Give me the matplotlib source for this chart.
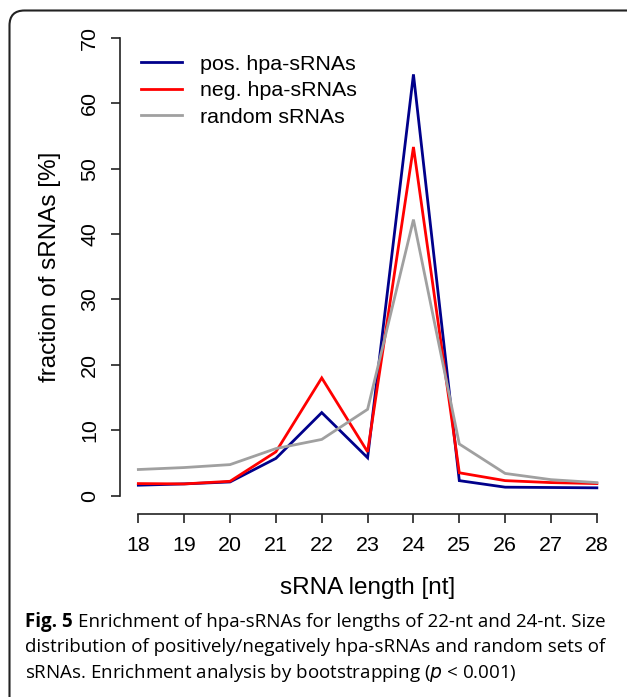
import matplotlib
matplotlib.use("Agg")
import matplotlib.pyplot as plt
from matplotlib.path import Path
from matplotlib.patches import PathPatch

# sRNA length distribution (% of sRNAs per length)
lengths = [18, 19, 20, 21, 22, 23, 24, 25, 26, 27, 28]
pos_hpa = [1.6, 1.8, 2.1, 5.7, 12.7, 5.8, 64.4, 2.3, 1.3, 1.25, 1.2]
neg_hpa = [1.85, 1.8, 2.2, 6.7, 18.0, 6.7, 53.3, 3.5, 2.3, 2.0, 1.85]
random_srna = [4.0, 4.3, 4.75, 7.2, 8.6, 13.2, 42.2, 7.9, 3.4, 2.45, 2.0]

series_labels = ["pos. hpa-sRNAs", "neg. hpa-sRNAs", "random sRNAs"]
series_colors = ["#00008B", "#FF0000", "#A0A0A0"]
y_ticks = [0, 10, 20, 30, 40, 50, 60, 70]

caption_bold = "Fig. 5"
caption_lines = [
    "Enrichment of hpa-sRNAs for lengths of 22-nt and 24-nt. Size",
    "distribution of positively/negatively hpa-sRNAs and random sets of",
    "sRNAs. Enrichment analysis by bootstrapping ($\\it{p}$ < 0.001)",
]

plt.rcParams["font.family"] = ["Liberation Sans", "DejaVu Sans"]
W, H = 627, 697
fig = plt.figure(figsize=(W / 100, H / 100), dpi=100)

ax = fig.add_axes([120 / W, 1 - 514 / H, (615.2 - 120) / W, (514 - 19.4) / H])
for vals, lab, col in zip([pos_hpa, neg_hpa, random_srna], series_labels, series_colors):
    ax.plot(lengths, vals, color=col, lw=2.0, label=lab, solid_joinstyle="miter")

ax.set_xlim(17.6, 28.4)
ax.set_ylim(-2.8, 72.8)
ax.set_xticks(lengths)
ax.set_yticks(y_ticks)
for s in ("top", "right"):
    ax.spines[s].set_visible(False)
ax.spines["left"].set_bounds(0, 70)
ax.spines["bottom"].set_bounds(18, 28)
for s in ("left", "bottom"):
    ax.spines[s].set_linewidth(1.2)
    ax.spines[s].set_color("#222222")
ax.tick_params(axis="both", length=6.3, width=1.2, color="#222222", labelsize=15.4)
ax.tick_params(axis="x", pad=9.3)
ax.tick_params(axis="y", pad=8.8)
for t in ax.get_yticklabels():
    t.set_rotation(90)
    t.set_va("center")
ax.set_ylabel("fraction of sRNAs [%]", fontsize=17.5, labelpad=14)
ax.set_xlabel("sRNA length [nt]", fontsize=17.5, labelpad=16)

ax.legend(loc="upper left", bbox_to_anchor=(141 / W, 1 - 54.5 / H),
          bbox_transform=fig.transFigure, frameon=False, fontsize=15.4,
          handlelength=1.9, handletextpad=0.85, labelspacing=0.36,
          borderpad=0, borderaxespad=0)

# rounded frame around the figure panel (top and left edges)
r = 15
x0, y0 = 9.5, H - 10.5
verts = [(x0, 0), (x0, y0 - r), (x0, y0), (x0 + r, y0), (W, y0)]
codes = [Path.MOVETO, Path.LINETO, Path.CURVE3, Path.CURVE3, Path.LINETO]
frame = PathPatch(Path([(v[0] / W, v[1] / H) for v in verts], codes),
                  transform=fig.transFigure, fill=False, lw=1.5, ec="#222222")
fig.patches.append(frame)

# caption, sized so the first line spans the panel width
cap_font = ["Open Sans", "DejaVu Sans"]
cap_left, cap_right = 25, 605
baselines = [626.7, 652.2, 677.7]


def draw_caption(size):
    texts = []
    t1 = fig.text(cap_left / W, 1 - baselines[0] / H, caption_bold, fontsize=size,
                  fontweight="bold", family=cap_font, va="baseline", ha="left")
    fig.canvas.draw()
    bb = t1.get_window_extent()
    gap = 0.28 * size * 100 / 72
    texts.append(t1)
    texts.append(fig.text((bb.x1 + gap) / W, 1 - baselines[0] / H, caption_lines[0],
                          fontsize=size, family=cap_font, va="baseline", ha="left"))
    for line, yb in zip(caption_lines[1:], baselines[1:]):
        texts.append(fig.text(cap_left / W, 1 - yb / H, line, fontsize=size,
                              family=cap_font, va="baseline", ha="left"))
    return texts


size = 12.0
texts = draw_caption(size)
fig.canvas.draw()
right = texts[1].get_window_extent().x1
for t in texts:
    t.remove()
size *= (cap_right - cap_left) / (right - cap_left)
draw_caption(size)

fig.savefig("out.png", dpi=100)
